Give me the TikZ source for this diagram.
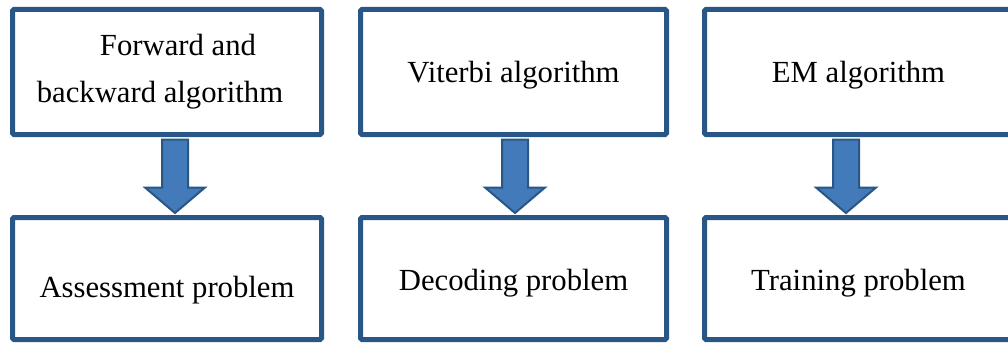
\documentclass[tikz,border=0pt]{standalone}
\usepackage{fontspec}
\setmainfont{Liberation Serif}
\usetikzlibrary{calc}
\definecolor{boxc}{RGB}{40,86,134}
\definecolor{arrc}{RGB}{66,122,186}
\newcommand\bigarr[3]{\draw[bigarrow] ($(#1.south)+(#3-13,2.5)$) -- ($(#2.north)+(#3-13,-27.5)$) -- ($(#2.north)+(#3-30,-27.5)$) -- ($(#2.north)+(#3,-2)$) -- ($(#2.north)+(#3+30,-27.5)$) -- ($(#2.north)+(#3+13,-27.5)$) -- ($(#1.south)+(#3+13,2.5)$) -- cycle;}
\begin{document}
\begin{tikzpicture}[x=1pt,y=-1pt,
  box/.style={draw=boxc, line width=5pt, rectangle, rounded corners=1.5pt, inner sep=0pt, fill=white,
    font=\fontsize{30.7pt}{47pt}\selectfont},
  onel/.style={text depth=6.7pt, text height=#1},
  topbox/.style={box, minimum width=#1, minimum height=125pt},
  botbox/.style={box, minimum width=#1, minimum height=122pt},
  bigarrow/.style={fill=arrc, draw=boxc, line width=2pt, line join=miter}]
\useasboundingbox (0,0) rectangle (1008,345);
\node[topbox=309pt, align=center] (t1) at (167,72) {\hspace*{22pt}Forward and\\backward algorithm\hspace*{14pt}};
\node[topbox=306pt, onel=26.7pt] (t2) at (513.5,72) {Viterbi algorithm};
\node[topbox=308pt, onel=26.7pt] (t3) at (858.5,72) {EM algorithm};
\node[botbox=309pt, onel=43.7pt] (b1) at (167,278.5) {Assessment problem};
\node[botbox=306pt, onel=29.7pt] (b2) at (513.5,278.5) {Decoding problem};
\node[botbox=308pt, onel=29.7pt] (b3) at (858.5,278.5) {Training problem};
\bigarr{t1}{b1}{8}
\bigarr{t2}{b2}{1.5}
\bigarr{t3}{b3}{-12.5}
\end{tikzpicture}
\end{document}
